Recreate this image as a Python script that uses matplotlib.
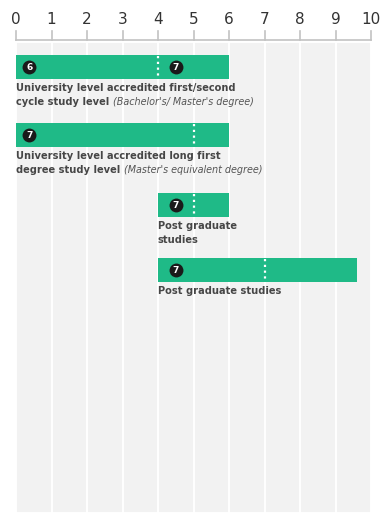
import numpy as np
import matplotlib.pyplot as plt
import matplotlib

matplotlib.rcParams["font.family"] = ["DejaVu Sans"]

# study tracks: where each bar starts, ends, and where the level divider sits
bar_start = [0, 0, 4, 4]
bar_end = [6, 6, 6, 9.6]
divider = [4, 5, 5, 7]
# EQF level badges: (position, level)
badges = [[(0, "6"), (4, "7")], [(0, "7")], [(4, "7")], [(4, "7")]]
label_bold = [
    ["University level accredited first/second", "cycle study level "],
    ["University level accredited long first", "degree study level "],
    ["Post graduate", "studies"],
    ["Post graduate studies"],
]
label_italic = ["(Bachelor's/ Master's degree)", "(Master's equivalent degree)", "", ""]
years = np.arange(0, 11)

# vertical layout in pixels
bar_top = [55, 123, 193, 258]
bar_h = 24
green = "#1fba87"

W, H = 380, 513
fig = plt.figure(figsize=(W / 100, H / 100), dpi=100)
ax = fig.add_axes([0, 0, 1, 1])
px = 35.5  # pixels per year
x0 = 16
ax.set_xlim(-x0 / px, (W - x0) / px)
ax.set_ylim(H, 0)
ax.axis("off")

# background year columns
ax.bar(years[:-1], H - 42, width=1, bottom=42, align="edge",
       color="#f2f2f2", edgecolor="white", linewidth=1.4, zorder=0)

# year scale on top
ax.plot([0, 10], [40, 40], color="#c2c2c2", lw=1.2, zorder=2)
for y in years:
    ax.plot([y, y], [31, 40], color="#c2c2c2", lw=1.2, zorder=2)
    ax.text(y, 20, str(y), ha="center", va="center", fontsize=11, color="#333333")

renderer = fig.canvas.get_renderer()
for i in range(len(bar_start)):
    top = bar_top[i]
    ax.barh(top + bar_h / 2, bar_end[i] - bar_start[i], left=bar_start[i],
            height=bar_h, color=green, zorder=3)
    ax.plot([divider[i], divider[i]], [top + 1, top + bar_h - 1], color="white",
            lw=1.6, ls=(0, (1, 1.6)), zorder=4)
    for pos, lvl in badges[i]:
        bx = pos + 0.38 if pos == 0 else pos + 0.5
        ax.scatter(bx, top + bar_h / 2, s=100, color="#1a1a1a", zorder=5, linewidths=0)
        ax.text(bx, top + bar_h / 2 + 0.5, lvl, ha="center", va="center", color="white",
                fontsize=6.5, fontweight="bold", zorder=6)
    ty = top + bar_h + 9
    for j, line in enumerate(label_bold[i]):
        t = ax.text(bar_start[i], ty + j * 14, line, ha="left", va="center",
                    fontsize=7.15, fontweight="bold", color="#464646")
        if j == 1 and label_italic[i]:
            bb = t.get_window_extent(renderer)
            xi = ax.transData.inverted().transform((bb.x1, 0))[0]
            ax.text(xi, ty + j * 14, label_italic[i], ha="left", va="center",
                    fontsize=6.9, style="italic", color="#555555")

fig.savefig("out.png", dpi=100)
